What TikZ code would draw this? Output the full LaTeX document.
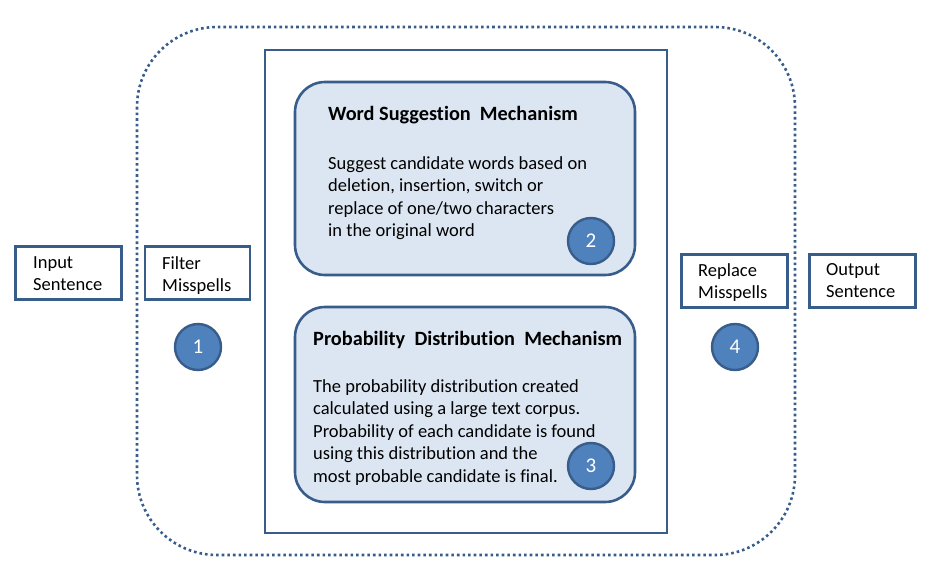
\documentclass[tikz,border=0pt]{standalone}
\usepackage{fontspec}
\setmainfont{Carlito}[Ligatures=NoCommon]
\definecolor{bord}{HTML}{385D8A}
\definecolor{lfill}{HTML}{DCE6F2}
\definecolor{cfill}{HTML}{4F81BD}
\begin{document}
\begin{tikzpicture}[x=1pt,y=-1pt,
  sbox/.style={draw=bord,line width=2.6pt,fill=white,inner sep=0},
  rbox/.style={draw=bord,line width=2.6pt,fill=lfill,rounded corners=30pt},
  num/.style={circle,draw=bord,line width=2.4pt,fill=cfill,minimum size=46pt,inner sep=0,text=white,font=\fontsize{21}{24}\selectfont},
  txt/.style={inner sep=0,align=left,font=\fontsize{18.5}{22.6}\selectfont},
  ttl/.style={inner sep=0,font=\fontsize{20.3}{24}\selectfont\bfseries}]
\useasboundingbox (0,0) rectangle (936,584);
% outer dotted boundary
\draw[bord,line width=2.6pt,dash pattern=on 2.6pt off 3pt,rounded corners=80pt] (137,27) rectangle (795,555);
% inner rectangle
\draw[sbox] (265,50) rectangle (667,533);
% mechanism boxes
\draw[rbox] (295,82) rectangle (635,275);
\draw[rbox] (295,307) rectangle (635,502);
% side boxes
\node[sbox,minimum width=106pt,minimum height=53pt] (inb) at (68.5,273) {};
\node[sbox,minimum width=105pt,minimum height=53pt] (fb) at (197.5,273) {};
\node[sbox,minimum width=106pt,minimum height=53pt] (rb) at (734.5,281) {};
\node[sbox,minimum width=106pt,minimum height=53pt] (ob) at (862.5,281) {};
\node[txt,anchor=north west] (tin) at (33,256) {Input\\Sentence};
\node[txt,anchor=north west] (tf) at (162,256) {Filter\\Misspells};
\node[txt,anchor=north west] (tr) at (698,263) {Replace\\Misspells};
\node[txt,anchor=north west] (to) at (826,263) {Output\\Sentence};
% titles
\node[ttl,anchor=base west] (ws) at (328,120) {Word Suggestion\ \ Mechanism};
\node[ttl,anchor=base west] (pd) at (313,345) {Probability\ \ Distribution\ \ Mechanism};
% body texts
\node[txt,anchor=north west] (wst) at (328,156) {Suggest candidate words based on\\deletion, insertion, switch or\\replace of one/two characters\\in the original word};
\node[txt,anchor=north west] (pdt) at (313,379) {The probability distribution created\\calculated using a large text corpus.\\Probability of each candidate is found\\using this distribution and the\\most probable candidate is final.};
% numbered circles
\node[num] (n1) at (198,347) {1};
\node[num] (n2) at (591,241) {2};
\node[num] (n3) at (591,466) {3};
\node[num] (n4) at (735,347) {4};
\end{tikzpicture}
\end{document}
